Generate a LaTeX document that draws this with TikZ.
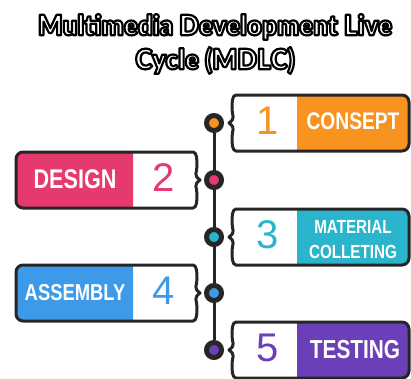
\documentclass[tikz,border=0pt]{standalone}
\usepackage{fontspec}
\usepackage{tikz}
\usetikzlibrary{backgrounds}
\setmainfont{Liberation Sans}
\newfontfamily\titlefont{Lato Black}[FakeStretch=0.93]
\newfontfamily\stepfont{Liberation Sans}[FakeStretch=0.8]
% white letters with a black outline (fill, then stroke)
\newcommand{\outlined}[1]{\special{pdf:code 0 G 2 Tr 2.2 w 1 j}#1\special{pdf:code 0 Tr 0 j 1 G}}

\definecolor{ink}{HTML}{262626}
\definecolor{cOrange}{HTML}{F7931E}
\definecolor{cPink}{HTML}{E6396E}
\definecolor{cCyan}{HTML}{2AB5CC}
\definecolor{cBlue}{HTML}{3D9AE8}
\definecolor{cPurple}{HTML}{6B3FB8}

\tikzset{
  outline/.style={draw=ink,line width=3pt,line join=round},
  spine/.style={draw=ink,line width=3pt},
  dot/.style={circle,draw=ink,line width=5pt,minimum size=15pt,inner sep=0pt},
  steplabel/.style={text=white,align=center,inner sep=0pt},
  stepnum/.style={inner sep=0pt,font=\fontsize{40}{40}\selectfont},
}

% tag shapes, #1 = centre y (pixels, downwards)
\newcommand{\rightshape}[1]{(236,#1-28) -- (402,#1-28) arc[start angle=-90,end angle=0,radius=7]
  -- (409,#1+21) arc[start angle=0,end angle=90,radius=7] -- (236,#1+28)
  .. controls (232,#1+28) and (232,#1+20) .. (232,#1+14)
  .. controls (232,#1+7) and (236,#1+5) .. (229,#1)
  .. controls (236,#1-5) and (232,#1-7) .. (232,#1-14)
  .. controls (232,#1-20) and (232,#1-28) .. (236,#1-28) -- cycle}
\newcommand{\leftshape}[1]{(193,#1-28) -- (23,#1-28) arc[start angle=-90,end angle=-180,radius=7]
  -- (16,#1+21) arc[start angle=180,end angle=90,radius=7] -- (193,#1+28)
  .. controls (197,#1+28) and (197,#1+20) .. (197,#1+14)
  .. controls (197,#1+7) and (193,#1+5) .. (200,#1)
  .. controls (193,#1-5) and (197,#1-7) .. (197,#1-14)
  .. controls (197,#1-20) and (197,#1-28) .. (193,#1-28) -- cycle}

\newcommand{\ribbonright}[2]{%
  \fill[white] \rightshape{#1};
  \fill[#2] (297,#1-28) -- (402,#1-28) arc[start angle=-90,end angle=0,radius=7]
    -- (409,#1+21) arc[start angle=0,end angle=90,radius=7] -- (297,#1+28) -- cycle;
  \draw[outline] \rightshape{#1};
}
\newcommand{\ribbonleft}[2]{%
  \fill[white] \leftshape{#1};
  \fill[#2] (133,#1-28) -- (23,#1-28) arc[start angle=-90,end angle=-180,radius=7]
    -- (16,#1+21) arc[start angle=180,end angle=90,radius=7] -- (133,#1+28) -- cycle;
  \draw[outline] \leftshape{#1};
}

\begin{document}
\begin{tikzpicture}[x=1pt,y=-1pt]
\useasboundingbox (0,0) rectangle (411,378);
\node[text=white,align=center,font=\titlefont\fontsize{28}{34}\selectfont] (title) at (215,44)
  {\outlined{Multimedia Development Live}\\\outlined{Cycle (MDLC)}};

\ribbonright{123}{cOrange}
\ribbonleft{180}{cPink}
\ribbonright{237}{cCyan}
\ribbonleft{293}{cBlue}
\ribbonright{350}{cPurple}

\node[dot,fill=cOrange] (d1) at (214,123) {};
\node[dot,fill=cPink] (d2) at (214,180) {};
\node[dot,fill=cCyan] (d3) at (214,237) {};
\node[dot,fill=cBlue] (d4) at (214,293) {};
\node[dot,fill=cPurple] (d5) at (214,350) {};
\begin{pgfonlayer}{background}
\draw[spine] (d1) -- (d5);
\end{pgfonlayer}

\node[stepnum,text=cOrange] (n1) at (268,121) {1};
\node[stepnum,text=cPink] (n2) at (164,178) {2};
\node[stepnum,text=cCyan] (n3) at (268,235) {3};
\node[stepnum,text=cBlue] (n4) at (164,291) {4};
\node[stepnum,text=cPurple] (n5) at (268,348) {5};

\node[steplabel,font=\stepfont\bfseries\fontsize{24}{24}\selectfont] (consept) at (353,121) {CONSEPT};
\node[steplabel,font=\stepfont\bfseries\fontsize{27}{27}\selectfont] (design) at (75,179) {DESIGN};
\node[steplabel,font=\stepfont\bfseries\fontsize{19}{25}\selectfont] (material) at (353,240) {MATERIAL\\COLLETING};
\node[steplabel,font=\stepfont\bfseries\fontsize{23}{23}\selectfont] (assembly) at (75,293) {ASSEMBLY};
\node[steplabel,font=\stepfont\bfseries\fontsize{26}{26}\selectfont] (testing) at (355,350) {TESTING};
\end{tikzpicture}
\end{document}
